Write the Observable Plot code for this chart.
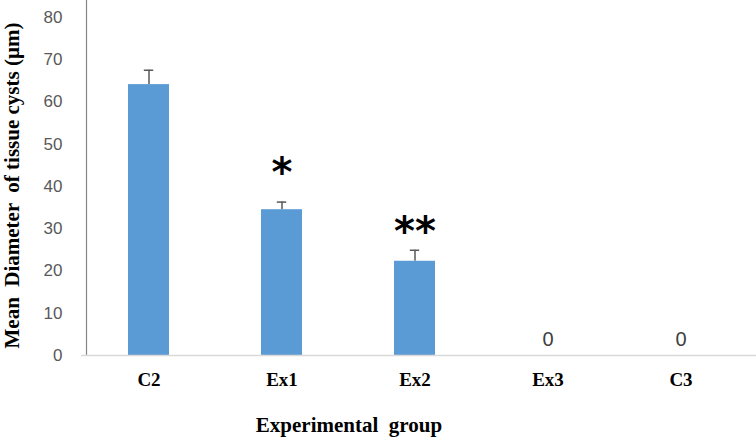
<!DOCTYPE html>
<html>
<head>
<meta charset="utf-8">
<script src="https://cdn.jsdelivr.net/npm/d3@7"></script>
<script src="https://cdn.jsdelivr.net/npm/@observablehq/plot@0.6"></script>
<style>
  body { margin: 0; background: #fff; }
  svg text { white-space: pre; }
</style>
</head>
<body>
<div id="chart"></div>
<script>
const groups = ["C2", "Ex1", "Ex2", "Ex3", "C3"];
const means = [64.1, 34.5, 22.3, 0, 0];
const errors = [3.4, 1.8, 2.6, 0, 0];
const sigLabels = ["", "*", "**", "", ""];
const sigY = [null, 45.5, 31.5, null, null];
const yTicks = [0, 10, 20, 30, 40, 50, 60, 70, 80];

const data = groups.map((g, i) => ({
  group: g, mean: means[i], err: errors[i], top: means[i] + errors[i],
  sig: sigLabels[i], sigY: sigY[i]
}));

const serif = "'Liberation Serif', 'Times New Roman', serif";
const sans = "'Liberation Sans', Arial, sans-serif";

const plot = Plot.plot({
  width: 756,
  height: 437,
  marginLeft: 86,
  marginRight: 3,
  marginTop: 0,
  marginBottom: 82,
  style: { background: "#fff", overflow: "visible" },
  x: { domain: groups, range: [79, 751], paddingInner: 0.69, paddingOuter: 0.36, label: null },
  y: { domain: [0, 84], label: null },
  marks: [
    Plot.frame({ anchor: "left", stroke: "#868686", strokeWidth: 1.2 }),
    Plot.ruleX(data.filter(d => d.err > 0), {
      x: "group", y1: "mean", y2: "top", stroke: "#595959", strokeWidth: 1.5
    }),
    Plot.tickY(data.filter(d => d.err > 0), {
      x: "group", y: "top", stroke: "#595959", strokeWidth: 1.5, insetLeft: 15.8, insetRight: 15.8
    }),
    Plot.barY(data, { x: "group", y: "mean", fill: "#5b9bd5" }),
    Plot.ruleY([0], { stroke: "#d9d9d9", strokeWidth: 1.5, insetLeft: -5, insetRight: -3 }),
    Plot.axisY({
      ticks: yTicks, tickSize: 0, tickPadding: 24, tickFormat: d => String(d),
      fontSize: 17, fontFamily: sans, color: "#595959", label: null
    }),
    Plot.axisX({
      tickSize: 0, tickPadding: 17, fontSize: 19, fontWeight: "bold",
      fontFamily: serif, color: "#000", label: null
    }),
    Plot.text(data.filter(d => d.mean === 0), {
      x: "group", y: "mean", text: d => String(d.mean), dy: -16,
      fontSize: 20, fontFamily: sans, fill: "#404040", lineAnchor: "middle"
    }),
    Plot.text(data.filter(d => d.sig), {
      x: "group", y: "sigY", text: "sig", dy: 10,
      fontSize: 40, fontWeight: "bold", fontFamily: "'DejaVu Sans', sans-serif",
      fill: "#000", lineAnchor: "middle"
    }),
    Plot.text(["Mean  Diameter  of tissue cysts (µm)"], {
      frameAnchor: "left", rotate: -90, dx: -74, dy: 7.5, textAnchor: "middle",
      fontSize: 21, fontWeight: "bold", fontFamily: serif, fill: "#000", lineAnchor: "middle"
    }),
    Plot.text(["Experimental  group"], {
      frameAnchor: "bottom", dx: -71, dy: 70, textAnchor: "middle",
      fontSize: 21, fontWeight: "bold", fontFamily: serif, fill: "#000", lineAnchor: "middle"
    })
  ]
});

document.getElementById("chart").appendChild(plot);
</script>
</body>
</html>
